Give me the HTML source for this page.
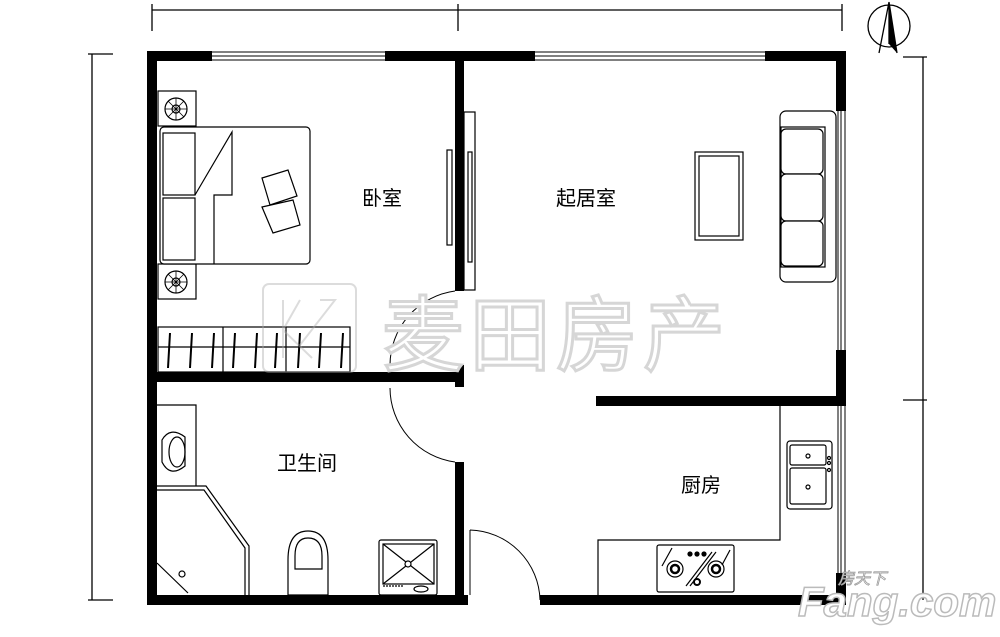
<!DOCTYPE html>
<html><head><meta charset="utf-8"><style>
html,body{margin:0;padding:0;background:#fff;}
svg{display:block;}
text{font-family:"Liberation Sans","Noto Sans CJK SC",sans-serif;}
</style></head><body>
<svg width="1000" height="637" viewBox="0 0 1000 637" xmlns="http://www.w3.org/2000/svg">
<rect width="1000" height="637" fill="#fff"/>
<g stroke="#000" stroke-width="1.3" fill="none">
<line x1="152" y1="10" x2="842" y2="10"/>
<line x1="152" y1="4" x2="152" y2="31"/>
<line x1="458" y1="4" x2="458" y2="31"/>
<line x1="842" y1="4" x2="842" y2="31"/>
<line x1="92" y1="54" x2="92" y2="600"/>
<line x1="88" y1="54" x2="113" y2="54"/>
<line x1="88" y1="600" x2="113" y2="600"/>
<line x1="923" y1="57" x2="923" y2="600"/>
<line x1="903" y1="57" x2="927" y2="57"/>
<line x1="903" y1="400" x2="927" y2="400"/>
<circle cx="889" cy="26" r="21"/>
<path d="M889 2 L879 53 M889 2 L897 53 M889 2 L889 44"/>
</g>
<path d="M889 2 L889 44 L897 53 Z" fill="#000"/>

<g fill="#000">
<rect x="147" y="51" width="65" height="10"/>
<rect x="385" y="51" width="150" height="10"/>
<rect x="765" y="51" width="81" height="10"/>
<rect x="147" y="51" width="10" height="554"/>
<rect x="147" y="595" width="321" height="10"/>
<rect x="540" y="595" width="306" height="10"/>
<rect x="836" y="51" width="10" height="60"/>
<rect x="836" y="350" width="10" height="56"/>
<rect x="836" y="573" width="10" height="32"/>
<rect x="455" y="51" width="9" height="240"/>
<rect x="147" y="372" width="316" height="10"/>
<rect x="455" y="365" width="9" height="22"/>
<rect x="455" y="462" width="9" height="143"/>
<rect x="596" y="396" width="250" height="10"/>
</g>
<g stroke="#000" stroke-width="1" fill="none">
<path d="M212 52 H385 M212 56 H385 M212 60 H385"/>
<path d="M535 52 H765 M535 56 H765 M535 60 H765"/>
<path d="M838 111 V350 M841 111 V350 M845 111 V350"/>
<path d="M838 406 V573 M841 406 V573 M845 406 V573"/>
<path d="M455 291 A75 75 0 0 0 390 365"/>
<path d="M390 388 A75 75 0 0 0 455 462"/>
<path d="M470 530 V595 M470 530 A72 72 0 0 1 540 600"/>
</g>

<g stroke="#000" stroke-width="1.2" fill="#fff">
<rect x="158" y="91" width="38" height="35"/>
<rect x="158" y="264" width="38" height="35"/>
<circle cx="176" cy="109" r="11"/><circle cx="176" cy="109" r="4"/>
<path d="M165 109 H187 M176 98 V120 M168 101 L184 117 M184 101 L168 117" stroke-width="0.8"/>
<circle cx="176" cy="282" r="11"/><circle cx="176" cy="282" r="4"/>
<path d="M165 282 H187 M176 271 V293 M168 274 L184 290 M184 274 L168 290" stroke-width="0.8"/>
<rect x="160" y="127" width="150" height="137" rx="4"/>
<rect x="163" y="133" width="32" height="62"/>
<rect x="163" y="198" width="32" height="62"/>
<path d="M195 195 L232 132 L232 195 L214 195 L214 264" fill="none"/>
<path d="M262 178 L288 170 L297 196 L270 205 Z M262 207 L293 200 L300 225 L273 233 Z" fill="#fff"/>
<rect x="158" y="327" width="192" height="45"/>
<path d="M158 347 H350 M223 327 V372 M286 327 V372" fill="none"/>
<path d="M170 333 L168 368 M192 333 L190 368 M214 333 L212 368 M235 333 L233 368 M257 333 L255 368 M277 333 L275 368 M300 333 L298 368 M321 333 L319 368 M343 333 L341 368" fill="none" stroke-width="2"/>
<rect x="464" y="112" width="11" height="178" fill="none"/>
<rect x="447" y="150" width="5" height="95" fill="none"/>
<rect x="468" y="152" width="4" height="110" fill="none"/>
<rect x="695" y="152" width="48" height="88"/>
<rect x="699" y="156" width="40" height="80"/>
<rect x="780" y="111" width="56" height="171" rx="6"/>
<rect x="781" y="127" width="44" height="140"/>
<rect x="781" y="129" width="42" height="45" rx="5"/>
<rect x="781" y="174" width="42" height="47" rx="5"/>
<rect x="781" y="221" width="42" height="45" rx="5"/>
</g>

<g stroke="#000" stroke-width="1.2" fill="none">
<path d="M157 405 H196 V486"/>
<path d="M162 440 Q170 426 185 437 V466 Q170 478 162 462 Z"/>
<ellipse cx="177" cy="452" rx="8" ry="15"/>
<path d="M157 486 H206 L249 546 V595 M157 490 H204 L245 548 V595"/>
<path d="M157 563 L188 593"/>
<circle cx="182" cy="574" r="3"/>
<path d="M288 595 V560 Q288 531 308 531 Q328 531 328 560 V595 Z"/>
<path d="M295 556 Q295 538 308 538 Q322 538 322 556 V569 H295 Z"/>
<rect x="379" y="540" width="58" height="55" rx="2"/>
<rect x="383" y="544" width="51" height="40"/>
<path d="M383 544 L434 584 M434 544 L383 584"/>
<circle cx="408" cy="564" r="3" fill="#fff"/>
<path d="M383 586 H404" stroke-dasharray="2 1"/>
<ellipse cx="421" cy="589" rx="7" ry="3"/>
<path d="M780 406 V540 H598 V595"/>
<rect x="787" y="441" width="45" height="68" rx="3"/>
<rect x="790" y="445" width="36" height="20" rx="2"/>
<rect x="790" y="468" width="36" height="36" rx="2"/>
<circle cx="808" cy="456" r="2"/><circle cx="808" cy="487" r="2"/>
<circle cx="829" cy="458" r="1.5"/><circle cx="829" cy="463" r="1.5"/><circle cx="829" cy="470" r="1.5"/>
<rect x="657" y="545" width="77" height="47" rx="2"/>
<circle cx="675" cy="569" r="8"/><circle cx="675" cy="569" r="4" stroke-width="2.5"/>
<circle cx="716" cy="569" r="8"/><circle cx="716" cy="569" r="4" stroke-width="2.5"/>
<circle cx="697" cy="582" r="3" stroke-width="2"/>
<circle cx="690" cy="554" r="2" fill="#000"/><circle cx="697" cy="554" r="2" fill="#000"/><circle cx="704" cy="554" r="2" fill="#000"/>
<path d="M662 566 L672 548 M686 586 L712 552 M690 586 L716 552 M722 565 L730 550"/>
</g>

<g font-size="20" fill="#000">
<text x="362" y="205">卧室</text>
<text x="556" y="205">起居室</text>
<text x="277" y="470">卫生间</text>
<text x="681" y="492">厨房</text>
</g>

<g opacity="0.4" stroke="#aaa" stroke-width="2" fill="none">
<rect x="263" y="284" width="93" height="88" rx="6"/>
<path d="M283 300 L283 358 M300 300 L283 330 L312 358 M320 300 L335 300 L300 345"/>
</g>
<text x="382" y="364" font-size="82" fill="#fff" stroke="#d6d6d6" stroke-width="3" letter-spacing="5">麦田房产</text>
<text x="798" y="616" font-size="42" font-weight="bold" font-style="italic" fill="#fff" stroke="#bbb" stroke-width="1.5">Fang.com</text>
<text x="838" y="584" font-size="16" font-style="italic" fill="#fff" stroke="#999" stroke-width="0.8">房天下</text>
</svg>
</body></html>
